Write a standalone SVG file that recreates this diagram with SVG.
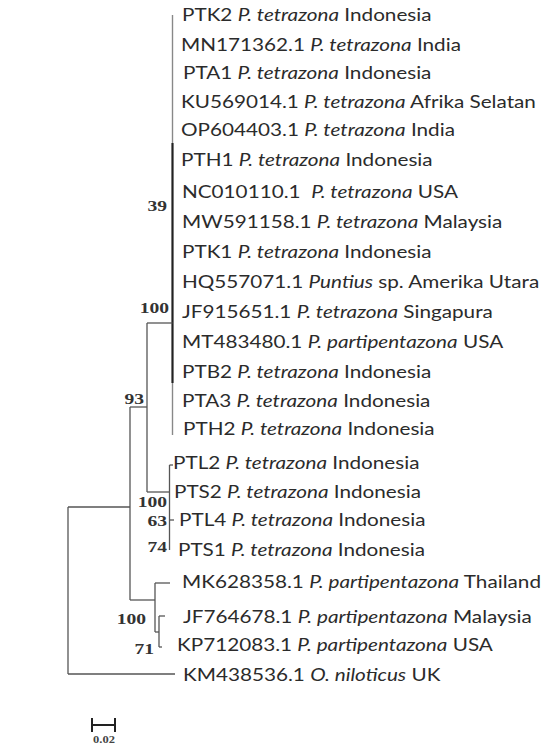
<svg xmlns="http://www.w3.org/2000/svg" width="543" height="748" viewBox="0 0 543 748">
<style>
.lf{font-family:Lato,"Noto Sans",sans-serif;font-size:16.7px;fill:#2b2b2b;white-space:pre}
.it{font-style:italic}
.bs{font-family:"Liberation Serif","DejaVu Serif",serif;font-size:14.5px;font-weight:bold;fill:#333;text-anchor:end}
.br{stroke:#555;stroke-width:1.3;fill:none}
.bk{stroke:#222;stroke-width:2.2;fill:none}
.lt{stroke:#888;stroke-width:1.4;fill:none}
</style>
<rect width="543" height="748" fill="#fff"/>
<g id="connectors">
<path class="lt" d="M172.5,15V143"/>
<path class="bk" d="M172.5,143V383"/>
<path class="lt" d="M172.5,383V435"/>
<path class="br" d="M147,323H172.5"/>
<path class="br" d="M147,323V492"/>
<path class="br" d="M130,407H147"/>
<path class="br" d="M147,492H169.5"/>
<path class="br" d="M169.5,465V550"/>
<path class="br" d="M169.5,465H173"/>
<path class="br" d="M169.5,520H174"/>
<path class="br" d="M130,407V600"/>
<path class="br" d="M68,507H130"/>
<path class="br" d="M68,507V674"/>
<path class="br" d="M68,674H175"/>
<path class="br" d="M130,600H155"/>
<path class="br" d="M155,583V632"/>
<path class="br" d="M155,583H170"/>
<path class="br" d="M155,632H159"/>
<path class="br" d="M159,616V647"/>
<path class="br" d="M159,616H165"/>
<path class="br" d="M159,647H162"/>
</g>
<g id="bootstrap">
<text class="bs" transform="translate(167 211) scale(1.35 1)">39</text>
<text class="bs" transform="translate(169 313) scale(1.35 1)">100</text>
<text class="bs" transform="translate(144 404) scale(1.35 1)">93</text>
<text class="bs" transform="translate(167 507) scale(1.35 1)">100</text>
<text class="bs" transform="translate(167 526) scale(1.35 1)">63</text>
<text class="bs" transform="translate(167 552) scale(1.35 1)">74</text>
<text class="bs" transform="translate(146 624) scale(1.35 1)">100</text>
<text class="bs" transform="translate(154 654) scale(1.35 1)">71</text>
</g>
<g id="leaf-PTK2"><text class="lf" transform="translate(182 21) scale(1.24 1)">PTK2 <tspan class="it">P. tetrazona</tspan> Indonesia</text></g>
<g id="leaf-MN171362"><text class="lf" transform="translate(181 51) scale(1.24 1)">MN171362.1 <tspan class="it">P. tetrazona</tspan> India</text></g>
<g id="leaf-PTA1"><text class="lf" transform="translate(183 79) scale(1.24 1)">PTA1 <tspan class="it">P. tetrazona</tspan> Indonesia</text></g>
<g id="leaf-KU569014"><text class="lf" transform="translate(181 108) scale(1.24 1)">KU569014.1 <tspan class="it">P. tetrazona</tspan> Afrika Selatan</text></g>
<g id="leaf-OP604403"><text class="lf" transform="translate(181 136) scale(1.24 1)">OP604403.1 <tspan class="it">P. tetrazona</tspan> India</text></g>
<g id="leaf-PTH1"><text class="lf" transform="translate(181 166) scale(1.24 1)">PTH1 <tspan class="it">P. tetrazona</tspan> Indonesia</text></g>
<g id="leaf-NC010110"><text class="lf" transform="translate(182 198) scale(1.24 1)">NC010110.1  <tspan class="it">P. tetrazona</tspan> USA</text></g>
<g id="leaf-MW591158"><text class="lf" transform="translate(182 228) scale(1.24 1)">MW591158.1 <tspan class="it">P. tetrazona</tspan> Malaysia</text></g>
<g id="leaf-PTK1"><text class="lf" transform="translate(182 258) scale(1.24 1)">PTK1 <tspan class="it">P. tetrazona</tspan> Indonesia</text></g>
<g id="leaf-HQ557071"><text class="lf" transform="translate(182 288) scale(1.24 1)">HQ557071.1 <tspan class="it">Puntius</tspan> sp. Amerika Utara</text></g>
<g id="leaf-JF915651"><text class="lf" transform="translate(182 318) scale(1.24 1)">JF915651.1 <tspan class="it">P. tetrazona</tspan> Singapura</text></g>
<g id="leaf-MT483480"><text class="lf" transform="translate(182 348) scale(1.24 1)">MT483480.1 <tspan class="it">P. partipentazona</tspan> USA</text></g>
<g id="leaf-PTB2"><text class="lf" transform="translate(182 378) scale(1.24 1)">PTB2 <tspan class="it">P. tetrazona</tspan> Indonesia</text></g>
<g id="leaf-PTA3"><text class="lf" transform="translate(182 407) scale(1.24 1)">PTA3 <tspan class="it">P. tetrazona</tspan> Indonesia</text></g>
<g id="leaf-PTH2"><text class="lf" transform="translate(183 435) scale(1.24 1)">PTH2 <tspan class="it">P. tetrazona</tspan> Indonesia</text></g>
<g id="leaf-PTL2"><text class="lf" transform="translate(173 469) scale(1.24 1)">PTL2 <tspan class="it">P. tetrazona</tspan> Indonesia</text></g>
<g id="leaf-PTS2"><text class="lf" transform="translate(174 498) scale(1.24 1)">PTS2 <tspan class="it">P. tetrazona</tspan> Indonesia</text></g>
<g id="leaf-PTL4"><text class="lf" transform="translate(179 526) scale(1.24 1)">PTL4 <tspan class="it">P. tetrazona</tspan> Indonesia</text></g>
<g id="leaf-PTS1"><text class="lf" transform="translate(178 556) scale(1.24 1)">PTS1 <tspan class="it">P. tetrazona</tspan> Indonesia</text></g>
<g id="leaf-MK628358"><text class="lf" transform="translate(182 588) scale(1.24 1)">MK628358.1 <tspan class="it">P. partipentazona</tspan> Thailand</text></g>
<g id="leaf-JF764678"><text class="lf" transform="translate(183 623) scale(1.24 1)">JF764678.1 <tspan class="it">P. partipentazona</tspan> Malaysia</text></g>
<g id="leaf-KP712083"><text class="lf" transform="translate(177 651) scale(1.24 1)">KP712083.1 <tspan class="it">P. partipentazona</tspan> USA</text></g>
<g id="leaf-KM438536"><text class="lf" transform="translate(183 681) scale(1.24 1)">KM438536.1 <tspan class="it">O. niloticus</tspan> UK</text></g>
<g id="scale">
<path stroke="#222" stroke-width="2" fill="none" d="M92,725H115M92,718V732M115,718V732"/>
<text transform="translate(104 743) scale(1.25 1)" text-anchor="middle" style="font-family:'Liberation Serif',serif;font-size:10px;font-weight:bold;fill:#444">0.02</text>
</g>
</svg>
